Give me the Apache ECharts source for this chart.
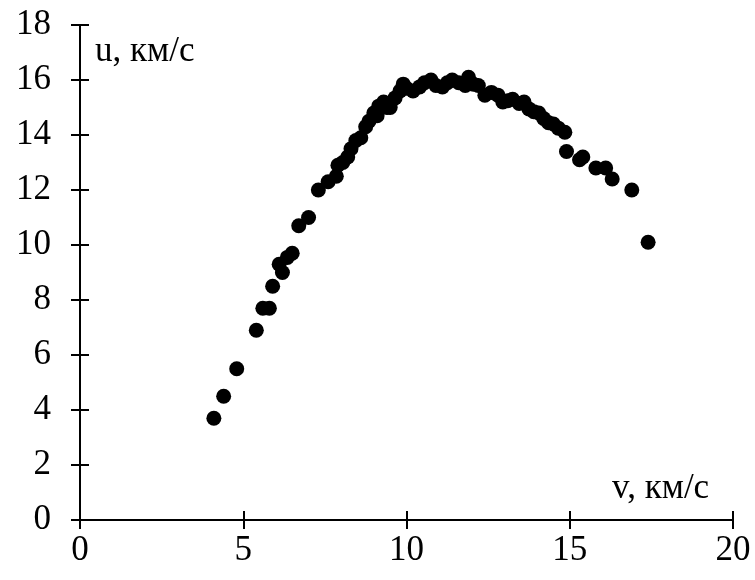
<!DOCTYPE html>
<html>
<head>
<meta charset="utf-8">
<script src="https://cdn.jsdelivr.net/npm/echarts@6/dist/echarts.min.js"></script>
<style>
  html, body { margin: 0; padding: 0; background: #fff; }
  #chart { width: 755px; height: 580px; }
</style>
</head>
<body>
<div id="chart"></div>
<script>
// v, км/с
const vValues = [4.1, 4.4, 4.8, 5.4, 5.6, 5.8, 5.9, 6.1, 6.2, 6.35,
  6.5, 6.7, 7.0, 7.3, 7.6, 7.85, 7.9, 8.05, 8.2, 8.3,
  8.45, 8.6, 8.75, 8.85, 9.0, 9.1, 9.15, 9.3, 9.4, 9.5,
  9.65, 9.8, 9.9, 10.0, 10.2, 10.4, 10.55, 10.75, 10.9, 11.1,
  11.25, 11.4, 11.6, 11.8, 11.9, 12.05, 12.2, 12.4, 12.6, 12.8,
  12.95, 13.1, 13.25, 13.45, 13.6, 13.75, 13.9, 14.05, 14.2, 14.35,
  14.5, 14.65, 14.85, 14.9, 15.3, 15.4, 15.8, 16.1, 16.3, 16.9,
  17.4];
// u, км/с
const uValues = [3.7, 4.5, 5.5, 6.9, 7.7, 7.7, 8.5, 9.3, 9.0, 9.55,
  9.7, 10.7, 11.0, 12.0, 12.3, 12.5, 12.9, 13.0, 13.2, 13.5,
  13.8, 13.9, 14.3, 14.5, 14.8, 14.7, 15.05, 15.2, 15.0, 15.0,
  15.35, 15.6, 15.85, 15.7, 15.6, 15.75, 15.9, 16.0, 15.8, 15.75,
  15.9, 16.0, 15.9, 15.8, 16.1, 15.85, 15.8, 15.45, 15.55, 15.45,
  15.2, 15.25, 15.3, 15.15, 15.2, 14.95, 14.85, 14.8, 14.6, 14.45,
  14.4, 14.25, 14.1, 13.4, 13.1, 13.2, 12.8, 12.8, 12.4, 12.0,
  10.1];

const xAxisName = "v, км/с";
const yAxisName = "u, км/с";

const points = vValues.map((v, i) => [v, uValues[i]]);

const font = "'Liberation Serif', 'Times New Roman', serif";
const black = "#000";

let myChart = echarts.init(document.getElementById("chart"));

let option = {
  backgroundColor: "#fff",
  animation: false,
  grid: { left: 80, right: 22, top: 25, bottom: 60 },
  xAxis: [
    {
      type: "value", min: 0, max: 20, interval: 5,
      splitLine: { show: false },
      axisLine: { onZero: false, lineStyle: { color: black, width: 2 } },
      axisTick: { length: 9, lineStyle: { color: black, width: 2 } },
      axisLabel: { color: black, fontFamily: font, fontSize: 35, margin: 13 }
    },
    {
      // inner half of the crossing ticks
      type: "value", min: 0, max: 20, interval: 5, position: "bottom",
      splitLine: { show: false },
      axisLine: { show: false },
      axisTick: { inside: true, length: 9, lineStyle: { color: black, width: 2 } },
      axisLabel: { show: false }
    }
  ],
  yAxis: [
    {
      type: "value", min: 0, max: 18, interval: 2,
      splitLine: { show: false },
      axisLine: { onZero: false, lineStyle: { color: black, width: 2 } },
      axisTick: { length: 9, lineStyle: { color: black, width: 2 } },
      axisLabel: { color: black, fontFamily: font, fontSize: 35, margin: 29 }
    },
    {
      type: "value", min: 0, max: 18, interval: 2, position: "left",
      splitLine: { show: false },
      axisLine: { show: false },
      axisTick: { inside: true, length: 9, lineStyle: { color: black, width: 2 } },
      axisLabel: { show: false }
    }
  ],
  graphic: [
    {
      type: "text", left: 95, top: 34,
      style: { text: yAxisName, fill: black, font: "35px " + font }
    },
    {
      type: "text", left: 612, top: 471,
      style: { text: xAxisName, fill: black, font: "35px " + font }
    }
  ],
  series: [
    {
      type: "scatter",
      data: points,
      symbol: "circle",
      symbolSize: 15,
      itemStyle: { color: black, opacity: 1 }
    }
  ]
};

myChart.setOption(option);
</script>
</body>
</html>
